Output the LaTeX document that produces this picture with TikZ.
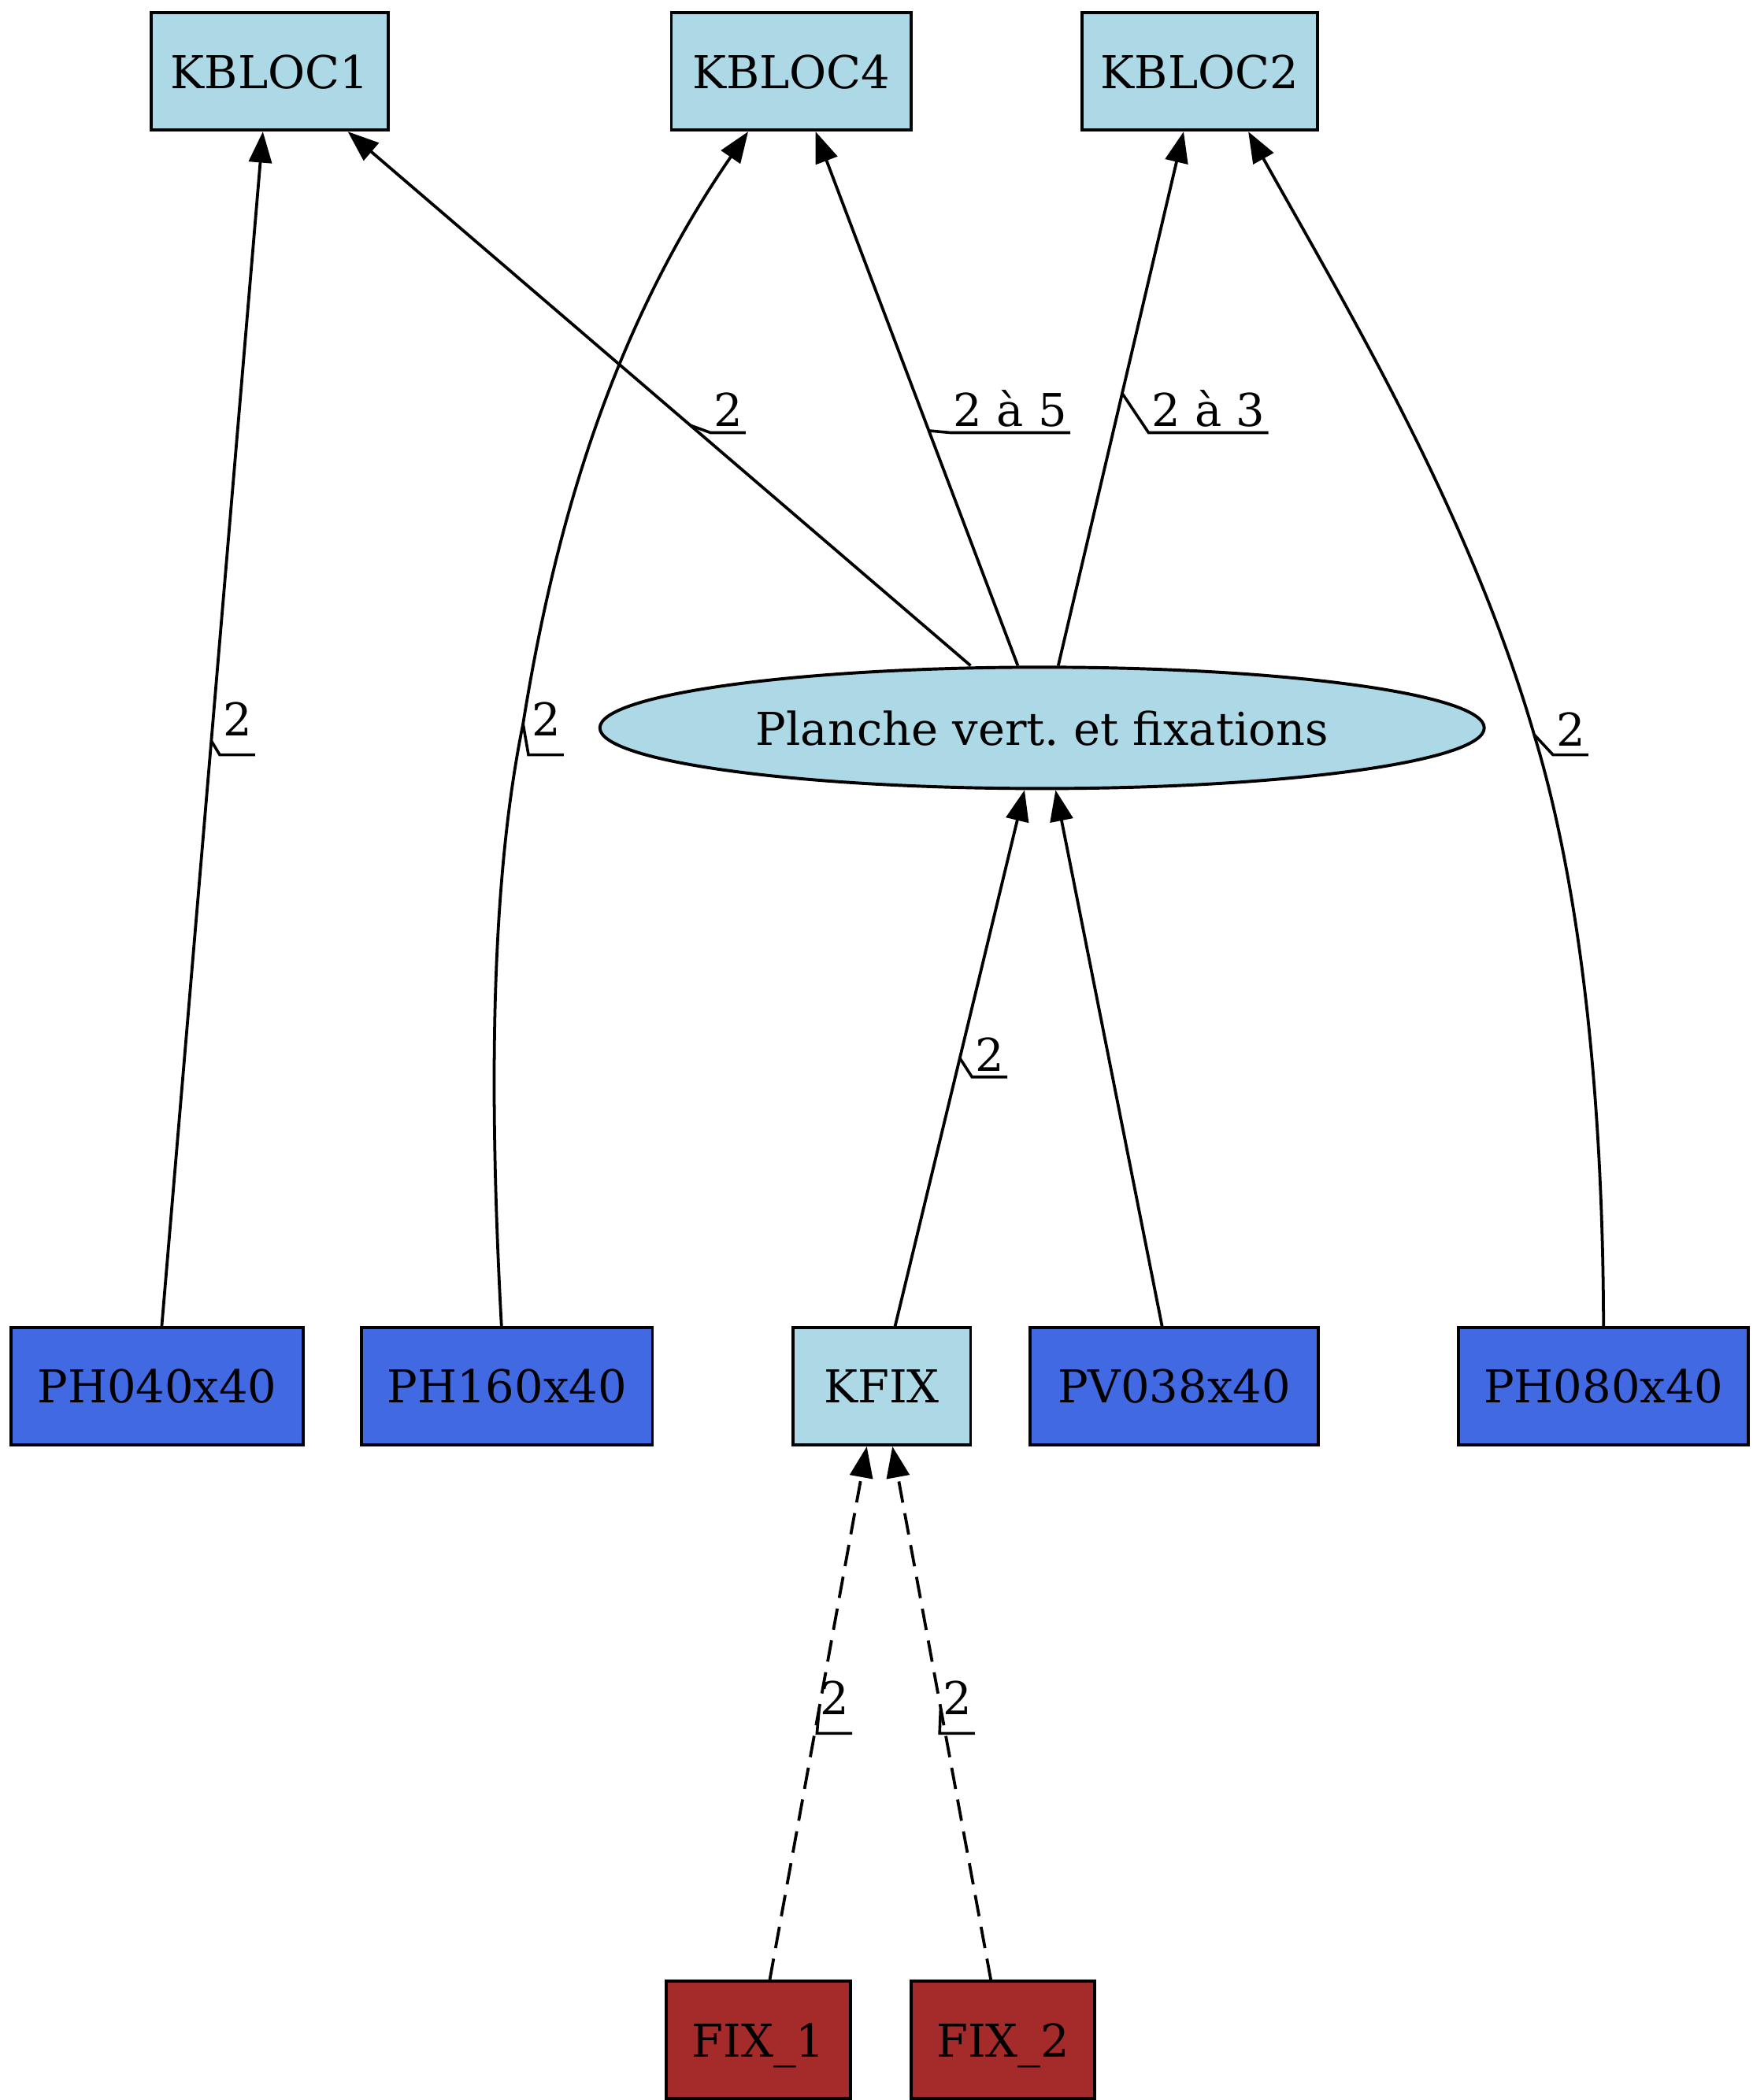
\documentclass[tikz,border=0pt]{standalone}
\usepackage{fontspec}
\setmainfont{DejaVu Serif}
\usepackage{tikz}
\usetikzlibrary{shapes.geometric}
\usetikzlibrary{arrows.meta}
\frenchspacing

\definecolor{kitblue}{HTML}{ADD8E6}
\definecolor{pieceblue}{HTML}{4169E1}
\definecolor{fixred}{HTML}{A52A2A}

\begin{document}
\begin{tikzpicture}[x=0.5pt, y=-0.5pt,
		every node/.style={font=\fontsize{16.8pt}{20pt}\selectfont, text depth=0pt},
		kit/.style={draw, line width=1.15pt, fill=kitblue, minimum height=43.5pt, inner sep=0pt},
		piece/.style={draw, line width=1.15pt, fill=pieceblue, minimum height=43.5pt, inner sep=0pt},
		fixbox/.style={draw, line width=1.15pt, fill=fixred, minimum height=43.5pt, inner sep=0pt},
		lien/.style={line width=1.1pt, -{Triangle[length=11.5pt, width=8.5pt]}},
		lienpt/.style={lien, dash pattern=on 8pt off 4pt},
		qte/.style={anchor=south west, inner xsep=1pt, inner ysep=6.9pt},
		qtehaut/.style={qte, inner ysep=2pt},
		souligne/.style={line width=1.05pt}]
				\useasboundingbox (0,0) rectangle (1300,1558);
				
				% kits
				\node[kit, minimum width=88pt] (kbloc1) at (200,53) {KBLOC1};
				\node[kit, minimum width=89pt] (kbloc4) at (587,53) {KBLOC4};
				\node[kit, minimum width=87.5pt] (kbloc2) at (890,53) {KBLOC2};
				\node[kit, ellipse, minimum width=328pt, minimum height=45pt] (planche) at (773,540) {Planche vert. et fixations};
				\node[kit, minimum width=66pt] (kfix) at (654,1028.5) {KFIX};
				
				% pieces
				\node[piece, minimum width=108.5pt] (ph040) at (116.5,1028.5) {PH040x40};
				\node[piece, minimum width=108pt] (ph160) at (376,1028.5) {PH160x40};
				\node[piece, minimum width=107pt] (pv038) at (871,1028.5) {PV038x40};
				\node[piece, minimum width=107.5pt] (ph080) at (1189.5,1028.5) {PH080x40};
				
				% fixations
				\node[fixbox, minimum width=68.5pt] (fix1) at (562.5,1513.5) {FIX\_1};
				\node[fixbox, minimum width=68pt] (fix2) at (744,1513.5) {FIX\_2};
				
				% liens
				\draw[lien] ([xshift=1.75pt]ph040.north) -- coordinate[pos=0.49] (m1) ([xshift=-2.5pt]kbloc1.south);
				
				\draw[lien] ([xshift=-2pt]ph160.north) .. controls (362,800) and (365,650) .. (388,537) coordinate (m2) .. controls (410,400) and (450,250) .. ([xshift=-16pt]kbloc4.south);
				
				\draw[lien] ([xshift=-26.5pt]planche.north) -- coordinate[pos=0.45] (m3) ([xshift=29pt]kbloc1.south);
				
				\draw[lien] ([xshift=-9pt]planche.north) -- coordinate[pos=0.44] (m4) ([xshift=9pt]kbloc4.south);
				
				\draw[lien] ([xshift=6pt]planche.north) -- coordinate[pos=0.51] (m5) ([xshift=-6pt]kbloc2.south);
				
				\draw[lien] (ph080.north) .. controls (1189,800) and (1170,650) .. (1138,545) coordinate (m6) .. controls (1090,380) and (1000,230) .. ([xshift=18pt]kbloc2.south);
				
				\draw[lien] ([xshift=5pt]kfix.north) -- coordinate[pos=0.5] (m7) ([xshift=-6.5pt]planche.south);
				
				\draw[lien] ([xshift=-4.5pt]pv038.north) -- ([xshift=5pt]planche.south);
				
				\draw[lienpt] ([xshift=4.25pt]fix1.north) -- coordinate[pos=0.51] (m8) ([xshift=-5.5pt]kfix.south);
				
				\draw[lienpt] ([xshift=-4.5pt]fix2.north) -- coordinate[pos=0.51] (m9) ([xshift=4pt]kfix.south);
				
				% quantites
				\node[qte] (q1) at (163,560) {2};
				\node[qte] (q2) at (392,560) {2};
				\node[qtehaut] (q3) at (527,321) {2};
				\node[qtehaut] (q4) at (705,321) {2 à 5};
				\node[qtehaut] (q5) at (852,321) {2 à 3};
				\node[qte, inner ysep=3pt] (q6) at (1152,560) {2};
				\node[qtehaut] (q7) at (721,799) {2};
				\node[qte] (q8) at (606,1286) {2};
				\node[qte] (q9) at (697,1286) {2};
				
				\draw[souligne] (m1) -- (q1.south west) -- (q1.south east);
				\draw[souligne] (m2) -- (q2.south west) -- (q2.south east);
				\draw[souligne] (m3) -- (q3.south west) -- (q3.south east);
				\draw[souligne] (m4) -- (q4.south west) -- (q4.south east);
				\draw[souligne] (m5) -- (q5.south west) -- (q5.south east);
				\draw[souligne] (m6) -- (q6.south west) -- (q6.south east);
				\draw[souligne] (m7) -- (q7.south west) -- (q7.south east);
				\draw[souligne] (m8) -- (q8.south west) -- (q8.south east);
				\draw[souligne] (m9) -- (q9.south west) -- (q9.south east);
\end{tikzpicture}
\end{document}
